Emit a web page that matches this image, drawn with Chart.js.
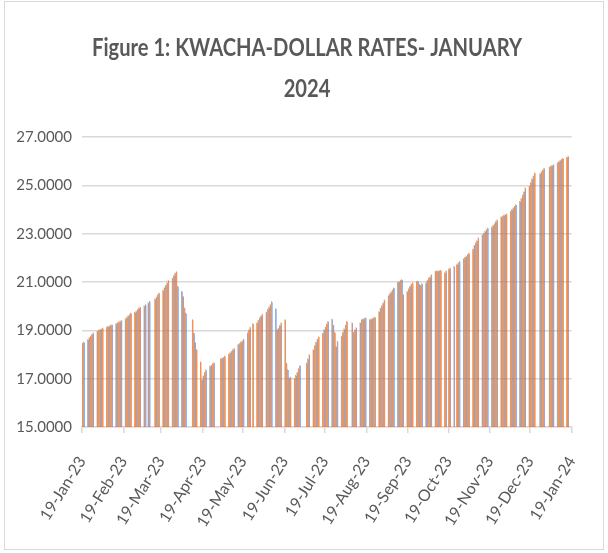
<!DOCTYPE html>
<html>
<head>
<meta charset="utf-8">
<script src="https://cdn.jsdelivr.net/npm/chart.js@4.4.1/dist/chart.umd.min.js"></script>
<style>
  html, body { margin: 0; padding: 0; background: #fff; }
  #wrap { position: relative; width: 608px; height: 553px; }
  #frame { position: absolute; left: 4px; top: 1px; width: 598px; height: 547px; border: 1px solid #d9d9d9; pointer-events: none; }
</style>
</head>
<body>
<div id="wrap">
  <canvas id="chart" width="608" height="553"></canvas>
  <div id="frame"></div>
</div>
<script>
// weekdays Mon..Fri, starting Monday 16-Jan-23; null = no quote (before start / holiday)
const firstMonday = Date.UTC(2023, 0, 16);
const axisStart = Date.UTC(2023, 0, 19);

const buying = [
  null, null, null, 18.45, 18.50,
  18.60, 18.68, 18.75, 18.82, 18.88,
  18.95, 18.99, 19.02, 19.05, 19.08,
  19.12, 19.15, 19.17, 19.19, 19.22,
  19.26, 19.30, 19.33, 19.37, 19.40,
  19.46, 19.52, 19.58, 19.64, 19.70,
  19.73, 19.78, 19.84, 19.90, 19.95,
  20.00, 20.05, null, 20.12, 20.18,
  null, 20.28, 20.36, 20.45, 20.53,
  20.64, 20.75, 20.85, 20.95, 21.05,
  21.15, 21.25, 21.35, 21.41, 20.80,
  20.60, 20.39, 19.91, 19.70, null,
  null, 19.43, 18.88, 18.49, 18.19,
  17.68, 16.95, 17.10, 17.25, 17.35,
  17.50, 17.55, 17.60, 17.65, null,
  null, 17.80, 17.84, 17.87, 17.92,
  18.00, 18.06, 18.12, 18.18, 18.24,
  18.40, 18.45, 18.50, 18.55, 18.62,
  18.88, 19.00, 19.12, null, 19.26,
  19.29, 19.40, 19.50, 19.58, 19.66,
  19.74, 19.85, 19.95, 20.05, 20.17,
  19.88, 19.02, 19.08, 19.18, 19.29,
  19.43, 17.63, 17.36, 17.02, 17.05,
  17.00, 17.12, 17.25, 17.40, 17.53,
  null, null, 17.63, 17.80, 17.98,
  18.19, 18.35, 18.50, 18.62, 18.72,
  18.86, 19.00, 19.12, 19.25, 19.36,
  19.45, 19.20, 18.90, 18.32, 18.53,
  18.74, 18.90, 19.05, 19.20, 19.36,
  null, 19.29, 18.90, 19.00, 19.10,
  19.30, 19.43, 19.45, 19.48, 19.50,
  19.43, 19.45, 19.48, 19.50, 19.53,
  19.76, 19.90, 20.00, 20.12, 20.25,
  20.42, 20.50, 20.58, 20.66, 20.74,
  20.97, 21.00, 21.05, 21.08, 20.46,
  20.60, 20.70, 20.80, 20.90, 20.95,
  21.00, 21.02, 20.90, 20.85, 20.92,
  20.95, 21.05, 21.15, 21.20, 21.29,
  21.43, 21.45, 21.44, 21.46, 21.47,
  21.36, 21.45, null, 21.52, 21.57,
  21.63, null, 21.70, 21.78, 21.84,
  21.94, 22.00, 22.06, 22.12, 22.18,
  22.35, 22.50, 22.60, 22.70, 22.81,
  22.94, 23.00, 23.08, 23.15, 23.22,
  23.26, 23.33, 23.40, 23.48, 23.56,
  23.68, 23.70, 23.74, 23.77, 23.80,
  23.91, 23.98, 24.05, 24.12, 24.19,
  24.32, 24.45, 24.58, 24.72, 24.88,
  24.95, 25.10, 25.25, 25.38, 25.50,
  null, 25.47, 25.55, 25.62, 25.70,
  null, 25.74, 25.78, 25.81, 25.84,
  25.92, 25.97, 26.02, 26.06, 26.10,
  26.14, 26.18, null, null, null
];

const selling = [
  null, null, null, 18.48, 18.53,
  18.63, 18.71, 18.78, 18.85, 18.91,
  18.98, 19.02, 19.05, 19.08, 19.11,
  19.15, 19.18, 19.20, 19.22, 19.25,
  19.29, 19.33, 19.36, 19.40, 19.43,
  19.49, 19.55, 19.61, 19.67, 19.73,
  19.76, 19.81, 19.87, 19.93, 19.98,
  20.03, 20.08, null, 20.15, 20.21,
  null, 20.31, 20.39, 20.48, 20.56,
  20.67, 20.78, 20.88, 20.98, 21.08,
  21.18, 21.28, 21.38, 21.44, 20.83,
  20.63, 20.42, 19.94, 19.73, null,
  null, 19.46, 18.91, 18.52, 18.22,
  17.71, 16.98, 17.13, 17.28, 17.38,
  17.53, 17.58, 17.63, 17.68, null,
  null, 17.83, 17.87, 17.90, 17.95,
  18.03, 18.09, 18.15, 18.21, 18.27,
  18.43, 18.48, 18.53, 18.58, 18.65,
  18.91, 19.03, 19.15, null, 19.29,
  19.32, 19.43, 19.53, 19.61, 19.69,
  19.77, 19.88, 19.98, 20.08, 20.20,
  19.91, 19.05, 19.11, 19.21, 19.32,
  19.46, 17.66, 17.39, 17.05, 17.08,
  17.03, 17.15, 17.28, 17.43, 17.56,
  null, null, 17.66, 17.83, 18.01,
  18.22, 18.38, 18.53, 18.65, 18.75,
  18.89, 19.03, 19.15, 19.28, 19.39,
  19.48, 19.23, 18.93, 18.35, 18.56,
  18.77, 18.93, 19.08, 19.23, 19.39,
  null, 19.32, 18.93, 19.03, 19.13,
  19.33, 19.46, 19.48, 19.51, 19.53,
  19.46, 19.48, 19.51, 19.53, 19.56,
  19.79, 19.93, 20.03, 20.15, 20.28,
  20.45, 20.53, 20.61, 20.69, 20.77,
  21.00, 21.03, 21.08, 21.11, 20.49,
  20.63, 20.73, 20.83, 20.93, 20.98,
  21.03, 21.05, 20.93, 20.88, 20.95,
  20.98, 21.08, 21.18, 21.23, 21.32,
  21.46, 21.48, 21.47, 21.49, 21.50,
  21.39, 21.48, null, 21.55, 21.60,
  21.66, null, 21.73, 21.81, 21.87,
  21.97, 22.03, 22.09, 22.15, 22.21,
  22.38, 22.53, 22.63, 22.73, 22.84,
  22.97, 23.03, 23.11, 23.18, 23.25,
  23.29, 23.36, 23.43, 23.51, 23.59,
  23.71, 23.73, 23.77, 23.80, 23.83,
  23.94, 24.01, 24.08, 24.15, 24.22,
  24.35, 24.48, 24.61, 24.75, 24.91,
  24.98, 25.13, 25.28, 25.41, 25.53,
  null, 25.50, 25.58, 25.65, 25.73,
  null, 25.77, 25.81, 25.84, 25.87,
  25.95, 26.00, 26.05, 26.09, 26.13,
  26.17, 26.21, null, null, null
];

const titleLines = ['Figure 1: KWACHA-DOLLAR RATES- JANUARY', '2024'];
const tickLabels = ['19-Jan-23', '19-Feb-23', '19-Mar-23', '19-Apr-23', '19-May-23', '19-Jun-23',
  '19-Jul-23', '19-Aug-23', '19-Sep-23', '19-Oct-23', '19-Nov-23', '19-Dec-23', '19-Jan-24'];
const yTicks = [15, 17, 19, 21, 23, 25, 27];

const DAY = 86400000;
const tickDays = tickLabels.map((l, i) => (Date.UTC(2023, i, 19) - axisStart) / DAY);

function toPoints(values) {
  const pts = [];
  values.forEach((v, i) => {
    if (v == null) return;
    const date = firstMonday + (Math.floor(i / 5) * 7 + (i % 5)) * DAY;
    pts.push({ x: (date - axisStart) / DAY + 0.5, y: v });
  });
  return pts;
}

const grey = '#595959';
const gridGrey = '#d9d9d9';
const tickFont = { family: "Lato, 'Open Sans', sans-serif", size: 16 };

// condensed bold title, like the Calibri heading of the original
const titlePlugin = {
  id: 'condensedTitle',
  afterDraw(chart) {
    const ctx = chart.ctx;
    ctx.save();
    ctx.font = 'bold 24px Lato, sans-serif';
    ctx.fillStyle = grey;
    ctx.textAlign = 'center';
    ctx.textBaseline = 'middle';
    const sx = Math.min(1, 430 / ctx.measureText(titleLines[0]).width);
    titleLines.forEach((t, i) => {
      ctx.save();
      ctx.translate(307, 48 + i * 41);
      ctx.scale(sx, 1);
      ctx.fillText(t, 0, 0);
      ctx.restore();
    });
    ctx.restore();
  },
};

new Chart(document.getElementById('chart'), {
  type: 'bar',
  data: {
    datasets: [
      { label: 'Buying', data: toPoints(buying), backgroundColor: '#4472C4', order: 1, barThickness: 0.55, inflateAmount: 0 },
      { label: 'Selling', data: toPoints(selling), backgroundColor: '#ED7D31', order: 0, barThickness: 0.72, inflateAmount: 0 },
    ],
  },
  options: {
    responsive: false,
    animation: false,
    layout: { padding: { left: 0, right: 32, top: 137, bottom: 0 } },
    plugins: {
      legend: { display: false },
      tooltip: { enabled: false },
      title: { display: false },
    },
    scales: {
      x: {
        type: 'linear',
        min: 0,
        max: 365,
        offset: false,
        afterBuildTicks: (s) => { s.ticks = tickDays.map((v) => ({ value: v })); },
        afterFit: (s) => { s.height = 126; },
        ticks: {
          autoSkip: false,
          minRotation: 58,
          maxRotation: 58,
          color: grey,
          font: tickFont,
          padding: 20,
          callback: (v, i) => tickLabels[i],
        },
        grid: { offset: false, drawOnChartArea: false, drawTicks: true, tickLength: 6, color: gridGrey, lineWidth: 1.5 },
        border: { color: gridGrey, width: 1.5 },
      },
      y: {
        min: 15,
        max: 27,
        afterBuildTicks: (s) => { s.ticks = yTicks.map((v) => ({ value: v })); },
        afterFit: (s) => { s.width = 82; },
        ticks: { color: grey, font: { family: "Lato, 'Open Sans', sans-serif", size: 15 }, padding: 10, callback: (v) => Number(v).toFixed(4) },
        grid: { color: gridGrey, lineWidth: 1.5, drawTicks: false },
        border: { display: false },
      },
    },
  },
  plugins: [titlePlugin],
});
</script>
</body>
</html>
